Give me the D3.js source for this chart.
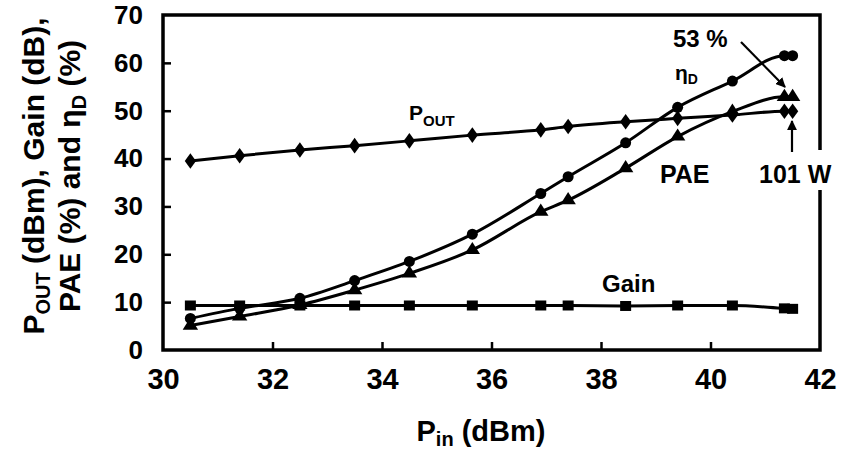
<!DOCTYPE html>
<html>
<head>
<meta charset="utf-8">
<script src="https://cdn.jsdelivr.net/npm/d3@7"></script>
<style>
  body { margin: 0; background: #fff; }
  svg { font-family: "Liberation Sans", Arial, sans-serif; font-weight: bold; }
</style>
</head>
<body>
<svg width="850" height="454"></svg>
<script>
// input power points (dBm)
const pin = [30.5, 31.4, 32.5, 33.5, 34.5, 35.65, 36.9, 37.4, 38.45, 39.4, 40.4, 41.35, 41.5];
const pout = [39.5, 40.6, 41.8, 42.7, 43.7, 44.9, 46.0, 46.7, 47.7, 48.4, 49.1, 49.9, 49.9];
const gain = [9.3, 9.3, 9.3, 9.3, 9.3, 9.3, 9.3, 9.3, 9.2, 9.3, 9.3, 8.7, 8.6];
const etaD = [6.6, 8.7, 10.8, 14.5, 18.5, 24.2, 32.7, 36.2, 43.3, 50.7, 56.2, 61.5, 61.5];
const pae = [5.1, 7.0, 9.4, 12.5, 16.0, 20.9, 28.9, 31.3, 38.0, 44.6, 49.8, 52.9, 52.9];
const xTicks = [30, 32, 34, 36, 38, 40, 42];
const yTicks = [0, 10, 20, 30, 40, 50, 60, 70];

const mLeft = 163, mRight = 820, mTop = 15, mBottom = 350;
const svg = d3.select('svg');
const x = d3.scaleLinear().domain([30, 42]).range([mLeft, mRight]);
const y = d3.scaleLinear().domain([0, 70]).range([mBottom, mTop]);

// frame
svg.append('rect').attr('x', mLeft).attr('y', mTop).attr('width', mRight - mLeft).attr('height', mBottom - mTop)
  .attr('fill', 'none').attr('stroke', '#000').attr('stroke-width', 3.5);

// ticks pointing inwards
const xAxis = d3.axisBottom(x).tickValues(xTicks).tickSize(-8).tickPadding(18).tickSizeOuter(0);
const gx = svg.append('g').attr('transform', `translate(0,${mBottom})`).call(xAxis);
gx.select('.domain').remove();
gx.selectAll('line').attr('stroke-width', 2.5).filter(d => d == 30 || d == 42).remove();
gx.selectAll('text').attr('font-size', 29).attr('dy', '0.71em').attr('fill', '#000');

const yAxis = d3.axisLeft(y).tickValues(yTicks).tickSize(-8).tickPadding(20).tickSizeOuter(0);
const gy = svg.append('g').attr('transform', `translate(${mLeft},0)`).call(yAxis);
gy.select('.domain').remove();
gy.selectAll('line').attr('stroke-width', 2.5).filter(d => d == 0 || d == 70).remove();
gy.selectAll('text').attr('font-size', 26).attr('fill', '#000');

// axis titles
const xt = svg.append('text').attr('x', 481).attr('y', 441).attr('text-anchor', 'middle').attr('font-size', 29);
xt.append('tspan').text('P');
xt.append('tspan').attr('font-size', 20).attr('dy', 5).text('in');
xt.append('tspan').attr('dy', -5).text(' (dBm)');

const yt = svg.append('g').attr('transform', 'translate(0,176) rotate(-90)');
const l1 = yt.append('text').attr('x', 0).attr('y', 44).attr('text-anchor', 'middle').attr('font-size', 30);
l1.append('tspan').text('P');
l1.append('tspan').attr('font-size', 20).attr('dy', 6).text('OUT');
l1.append('tspan').attr('dy', -6).text(' (dBm), Gain (dB),');
const l2 = yt.append('text').attr('x', 0).attr('y', 80).attr('text-anchor', 'middle').attr('font-size', 30);
l2.append('tspan').text('PAE (%) and η');
l2.append('tspan').attr('font-size', 20).attr('dy', 6).text('D');
l2.append('tspan').attr('dy', -6).text(' (%)');

// series
const line = d3.line().x((d, i) => x(pin[i])).y(d => y(d)).curve(d3.curveMonotoneX);
const series = [
  { values: pout, symbol: d3.symbolDiamond, size: 70, sx: 1.25 },
  { values: gain, symbol: d3.symbolSquare, size: 100, sx: 1.1 },
  { values: etaD, symbol: d3.symbolCircle, size: 95, sx: 1 },
  { values: pae, symbol: d3.symbolTriangle, size: 85, sx: 1.1 }
];
series.forEach(s => {
  svg.append('path').attr('d', line(s.values)).attr('fill', 'none').attr('stroke', '#000').attr('stroke-width', 3);
  svg.append('g').selectAll('path').data(s.values).enter().append('path')
    .attr('d', d3.symbol().type(s.symbol).size(s.size))
    .attr('transform', (d, i) => `translate(${x(pin[i])},${y(d)}) scale(${s.sx},1)`)
    .attr('fill', '#000');
});

// annotations
svg.append('defs').append('marker').attr('id', 'arrow').attr('viewBox', '0 0 10 10')
  .attr('refX', 9).attr('refY', 5).attr('markerWidth', 4.5).attr('markerHeight', 4.5).attr('orient', 'auto')
  .append('path').attr('d', 'M0,0 L10,5 L0,10 z').attr('fill', '#000');

const pl = svg.append('text').attr('x', 409).attr('y', 120).attr('font-size', 21);
pl.append('tspan').text('P');
pl.append('tspan').attr('font-size', 15).attr('dy', 6).text('OUT');

svg.append('text').attr('x', 660).attr('y', 183).attr('font-size', 25).text('PAE');
svg.append('text').attr('x', 602).attr('y', 292).attr('font-size', 24).text('Gain');
svg.append('text').attr('x', 673).attr('y', 47).attr('font-size', 24).text('53 %');
const eta = svg.append('text').attr('x', 675).attr('y', 80).attr('font-size', 21);
eta.append('tspan').text('η');
eta.append('tspan').attr('font-size', 14).attr('dy', 4).text('D');

svg.append('line').attr('x1', 741).attr('y1', 42).attr('x2', 785).attr('y2', 87)
  .attr('stroke', '#000').attr('stroke-width', 2.2).attr('marker-end', 'url(#arrow)');

svg.append('rect').attr('x', 755).attr('y', 150).attr('width', 80).attr('height', 40).attr('fill', '#fff');
svg.append('text').attr('x', 759).attr('y', 183).attr('font-size', 25).text('101 W');
svg.append('line').attr('x1', 792).attr('y1', 152).attr('x2', 792).attr('y2', 121)
  .attr('stroke', '#000').attr('stroke-width', 2.2).attr('marker-end', 'url(#arrow)');
</script>
</body>
</html>
